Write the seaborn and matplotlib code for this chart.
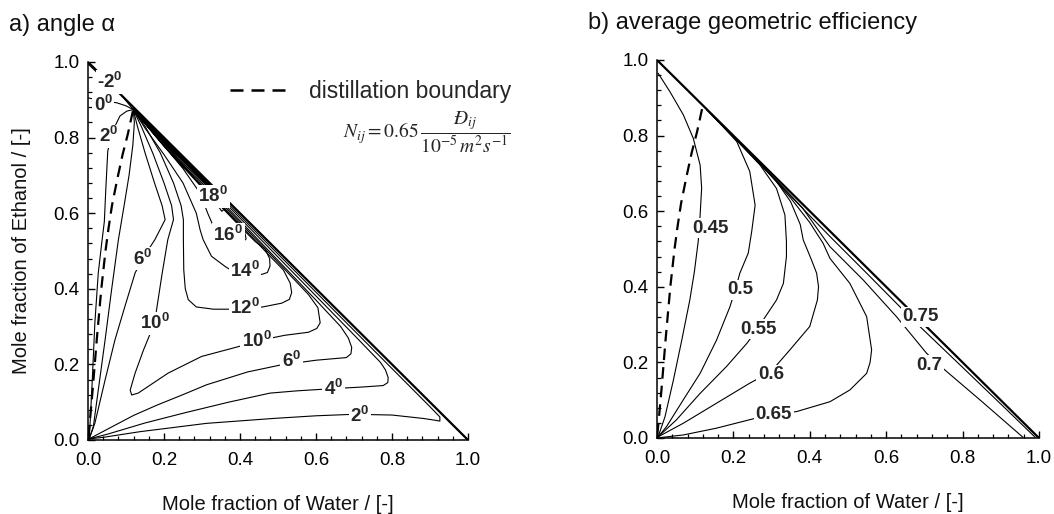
import matplotlib
matplotlib.use("Agg")
import matplotlib.pyplot as plt
import seaborn as sns
from matplotlib.lines import Line2D
from matplotlib.ticker import MultipleLocator, FormatStrFormatter

sns.set_theme(style="ticks")
plt.rcParams["font.family"] = ["Liberation Sans", "DejaVu Sans"]
plt.rcParams["mathtext.fontset"] = "custom"
plt.rcParams["mathtext.rm"] = "Liberation Sans"
plt.rcParams["mathtext.bf"] = "Liberation Sans:bold"
plt.rcParams["mathtext.it"] = "Liberation Sans:italic"

# ---------------- data ----------------
# distillation boundary (water, ethanol mole fractions)
boundary_x = [0.118, 0.105, 0.091, 0.077, 0.063, 0.054, 0.046, 0.035, 0.023, 0.012, 0.004, 0.0]
boundary_y = [0.870, 0.810, 0.755, 0.690, 0.620, 0.560, 0.500, 0.400, 0.265, 0.130, 0.040, 0.0]

# triangle edge (x_water + x_ethanol = 1)
edge_x = [0.0, 1.0]
edge_y = [1.0, 0.0]
band_x = [0.16, 0.33]
band_y = [0.834, 0.664]

# ---- a) angle alpha isolines ----
alpha_m2_x = [0.0, 0.024, 0.058, 0.09, 0.119]
alpha_m2_y = [0.995, 0.972, 0.945, 0.91, 0.874]
alpha_0_x = [0.0, 0.04, 0.076, 0.10, 0.119]
alpha_0_y = [0.905, 0.897, 0.892, 0.884, 0.874]
alpha_2_x = [0.119, 0.102, 0.084, 0.071, 0.060, 0.052, 0.047, 0.043, 0.036, 0.027, 0.018, 0.010, 0.005, 0.003,
             0.04, 0.137, 0.312, 0.488, 0.60, 0.70, 0.80, 0.882, 0.915, 0.926, 0.926, 0.90, 0.80, 0.70, 0.60,
             0.50, 0.40, 0.30, 0.20, 0.119]
alpha_2_y = [0.874, 0.870, 0.857, 0.830, 0.800, 0.764, 0.667, 0.578, 0.520, 0.442, 0.309, 0.132, 0.035, 0.003,
             0.007, 0.022, 0.044, 0.057, 0.064, 0.068, 0.066, 0.057, 0.052, 0.050, 0.061, 0.088, 0.189, 0.290,
             0.391, 0.492, 0.593, 0.695, 0.796, 0.877]
alpha_4_x = [0.119, 0.122, 0.118, 0.108, 0.095, 0.080, 0.062, 0.045, 0.027, 0.014, 0.003,
             0.05, 0.15, 0.255, 0.37, 0.479, 0.55, 0.646, 0.72, 0.777, 0.789, 0.790, 0.783, 0.77, 0.70,
             0.60, 0.50, 0.40, 0.30, 0.20, 0.119]
alpha_4_y = [0.874, 0.840, 0.780, 0.700, 0.620, 0.530, 0.397, 0.265, 0.132, 0.035, 0.003,
             0.015, 0.045, 0.072, 0.100, 0.124, 0.130, 0.136, 0.140, 0.144, 0.152, 0.165, 0.185, 0.205, 0.278,
             0.381, 0.484, 0.587, 0.690, 0.793, 0.876]
alpha_6_x = [0.119, 0.130, 0.150, 0.175, 0.195, 0.203, 0.176, 0.143, 0.124, 0.097, 0.071, 0.045, 0.018, 0.003,
             0.05, 0.12, 0.181, 0.25, 0.312, 0.42, 0.505, 0.60, 0.68, 0.692, 0.694, 0.685, 0.665, 0.60, 0.50,
             0.40, 0.30, 0.20, 0.119]
alpha_6_y = [0.874, 0.830, 0.760, 0.680, 0.620, 0.583, 0.530, 0.479, 0.442, 0.353, 0.265, 0.159, 0.044, 0.003,
             0.028, 0.065, 0.092, 0.120, 0.146, 0.180, 0.198, 0.211, 0.218, 0.228, 0.245, 0.270, 0.300, 0.370,
             0.475, 0.580, 0.685, 0.790, 0.875]
alpha_10_x = [0.119, 0.140, 0.170, 0.200, 0.220, 0.225, 0.210, 0.195, 0.175, 0.146, 0.124, 0.111, 0.115, 0.132,
              0.211, 0.299, 0.396, 0.444, 0.518, 0.58, 0.602, 0.611, 0.605, 0.58, 0.50, 0.40, 0.30, 0.20, 0.119]
alpha_10_y = [0.874, 0.830, 0.760, 0.680, 0.620, 0.583, 0.530, 0.440, 0.309, 0.238, 0.177, 0.132, 0.119, 0.124,
              0.177, 0.221, 0.247, 0.262, 0.277, 0.285, 0.295, 0.310, 0.350, 0.385, 0.470, 0.575, 0.680, 0.787,
              0.875]
alpha_12_x = [0.119, 0.150, 0.190, 0.225, 0.245, 0.251, 0.251, 0.252, 0.256, 0.264, 0.285, 0.330, 0.413, 0.460,
              0.510, 0.530, 0.536, 0.532, 0.514, 0.480, 0.40, 0.30, 0.20, 0.119]
alpha_12_y = [0.874, 0.830, 0.760, 0.680, 0.620, 0.583, 0.530, 0.450, 0.400, 0.371, 0.352, 0.346, 0.346, 0.352,
              0.362, 0.372, 0.390, 0.415, 0.450, 0.485, 0.570, 0.675, 0.783, 0.874]
alpha_14_x = [0.119, 0.150, 0.200, 0.250, 0.285, 0.295, 0.303, 0.325, 0.361, 0.378, 0.413, 0.457, 0.472, 0.479,
              0.478, 0.466, 0.44, 0.40, 0.30, 0.20, 0.119]
alpha_14_y = [0.874, 0.825, 0.755, 0.680, 0.600, 0.556, 0.530, 0.486, 0.459, 0.448, 0.443, 0.438, 0.443, 0.460,
              0.480, 0.505, 0.525, 0.565, 0.670, 0.780, 0.874]
alpha_16_x = [0.119, 0.160, 0.200, 0.250, 0.295, 0.315, 0.330, 0.345, 0.369, 0.396, 0.409, 0.416, 0.412, 0.39,
              0.30, 0.20, 0.119]
alpha_16_y = [0.874, 0.825, 0.778, 0.718, 0.653, 0.600, 0.565, 0.548, 0.542, 0.540, 0.525, 0.532, 0.552, 0.578,
              0.668, 0.777, 0.874]
alpha_18_x = [0.119, 0.200, 0.260, 0.300, 0.335, 0.352, 0.360, 0.355, 0.320, 0.260, 0.200, 0.119]
alpha_18_y = [0.874, 0.787, 0.716, 0.670, 0.630, 0.605, 0.612, 0.628, 0.665, 0.730, 0.793, 0.876]

alpha_label_text = ["-2", "0", "2", "6", "10", "12", "14", "16", "18", "10", "6", "4", "2"]
alpha_label_x = [0.058, 0.040, 0.054, 0.143, 0.175, 0.413, 0.413, 0.369, 0.330, 0.444, 0.536, 0.646, 0.716]
alpha_label_y = [0.947, 0.887, 0.804, 0.479, 0.309, 0.349, 0.446, 0.543, 0.645, 0.263, 0.208, 0.134, 0.064]

# ---- b) average geometric efficiency isolines ----
eff_45_x = [0.003, 0.034, 0.069, 0.095, 0.113, 0.117, 0.113, 0.108, 0.098, 0.086, 0.065, 0.043, 0.021, 0.003]
eff_45_y = [0.965, 0.916, 0.855, 0.793, 0.722, 0.661, 0.590, 0.520, 0.440, 0.365, 0.259, 0.153, 0.056, 0.003]
eff_50_x = [0.130, 0.165, 0.209, 0.243, 0.257, 0.248, 0.239, 0.217, 0.205, 0.191, 0.156, 0.113, 0.069, 0.025, 0.003]
eff_50_y = [0.868, 0.832, 0.784, 0.705, 0.616, 0.546, 0.489, 0.436, 0.392, 0.347, 0.259, 0.171, 0.101, 0.030, 0.003]
eff_55_x = [0.140, 0.200, 0.270, 0.313, 0.335, 0.339, 0.339, 0.331, 0.313, 0.278, 0.265, 0.235, 0.182, 0.113,
            0.051, 0.003]
eff_55_y = [0.858, 0.797, 0.722, 0.660, 0.590, 0.519, 0.480, 0.409, 0.365, 0.312, 0.290, 0.250, 0.189, 0.118,
            0.048, 0.003]
eff_60_x = [0.150, 0.250, 0.310, 0.350, 0.375, 0.383, 0.405, 0.418, 0.423, 0.420, 0.400, 0.348, 0.298, 0.243,
            0.156, 0.069, 0.003]
eff_60_y = [0.848, 0.746, 0.683, 0.625, 0.565, 0.524, 0.470, 0.436, 0.400, 0.365, 0.295, 0.233, 0.175, 0.145,
            0.092, 0.039, 0.003]
eff_65_x = [0.160, 0.280, 0.350, 0.400, 0.435, 0.453, 0.505, 0.549, 0.562, 0.558, 0.549, 0.505, 0.453, 0.366,
            0.306, 0.261, 0.156, 0.069, 0.008]
eff_65_y = [0.838, 0.715, 0.635, 0.570, 0.515, 0.475, 0.409, 0.321, 0.233, 0.200, 0.171, 0.127, 0.096, 0.070,
            0.062, 0.053, 0.026, 0.008, 0.001]
eff_70_x = [0.170, 0.300, 0.380, 0.453, 0.540, 0.627, 0.706, 0.749, 0.850, 0.958]
eff_70_y = [0.828, 0.695, 0.610, 0.506, 0.418, 0.321, 0.224, 0.184, 0.097, 0.002]
eff_75_x = [0.180, 0.350, 0.453, 0.550, 0.640, 0.684, 0.800, 0.900, 0.990]
eff_75_y = [0.818, 0.640, 0.533, 0.435, 0.343, 0.299, 0.187, 0.090, 0.002]

eff_label_text = ["0.45", "0.5", "0.55", "0.6", "0.65", "0.7", "0.75"]
eff_label_x = [0.139, 0.217, 0.265, 0.298, 0.306, 0.713, 0.691]
eff_label_y = [0.555, 0.392, 0.287, 0.167, 0.063, 0.193, 0.321]

# ---------------- drawing ----------------
fig = plt.figure(figsize=(10.54, 5.14), dpi=100)
ax1 = fig.add_axes([0.0835, 0.144, 0.3605, 0.7354])
ax2 = fig.add_axes([0.6233, 0.1479, 0.3624, 0.7354])


def draw(ax, xs, ys, lw=0.8, ls="-", z=2):
    sns.lineplot(x=xs, y=ys, sort=False, estimator=None, color="black",
                 linewidth=lw, linestyle=ls, ax=ax, legend=False, zorder=z)


def style_axes(ax):
    ax.set_xlim(0, 1)
    ax.set_ylim(0, 1)
    for s in ["top", "right"]:
        ax.spines[s].set_visible(False)
    for s in ["left", "bottom"]:
        ax.spines[s].set_linewidth(1.1)
        ax.spines[s].set_color("black")
    ax.xaxis.set_major_locator(MultipleLocator(0.2))
    ax.yaxis.set_major_locator(MultipleLocator(0.2))
    ax.xaxis.set_minor_locator(MultipleLocator(0.04))
    ax.yaxis.set_minor_locator(MultipleLocator(0.04))
    ax.xaxis.set_major_formatter(FormatStrFormatter("%.1f"))
    ax.yaxis.set_major_formatter(FormatStrFormatter("%.1f"))
    ax.tick_params(which="major", direction="in", length=5, width=1, colors="black", labelsize=13.5)
    ax.tick_params(which="minor", direction="in", length=3, width=0.9, colors="black")
    ax.tick_params(axis="x", which="major", pad=9)
    ax.tick_params(axis="y", which="major", pad=6)
    ax.set_xlabel("Mole fraction of Water / [-]", fontsize=14.5, color="#111111")
    ax.xaxis.set_label_coords(0.5, -0.145)
    ax.set_facecolor("white")


dash = (0, (5.2, 3.2))

# panel a
for xs, ys in [(alpha_m2_x, alpha_m2_y), (alpha_0_x, alpha_0_y), (alpha_2_x, alpha_2_y),
               (alpha_4_x, alpha_4_y), (alpha_6_x, alpha_6_y), (alpha_10_x, alpha_10_y),
               (alpha_12_x, alpha_12_y), (alpha_14_x, alpha_14_y), (alpha_16_x, alpha_16_y),
               (alpha_18_x, alpha_18_y)]:
    draw(ax1, xs, ys, lw=0.8)
draw(ax1, edge_x, edge_y, lw=1.6, z=3)
draw(ax1, band_x, band_y, lw=2.6, z=3)
draw(ax1, boundary_x, boundary_y, lw=1.6, ls=dash, z=3)
style_axes(ax1)
ax1.set_ylabel("Mole fraction of Ethanol / [-]", fontsize=14.5, color="#111111")
ax1.yaxis.set_label_coords(-0.150, 0.5)

for t, x, y in zip(alpha_label_text, alpha_label_x, alpha_label_y):
    if t.startswith("-"):
        s = "-$\\mathbf{" + t[1:] + "^{0}}$"
    else:
        s = "$\\mathbf{" + t + "^{0}}$"
    ax1.text(x, y, s, ha="center", va="center", fontsize=13.5, fontweight="bold", zorder=6,
             bbox=dict(boxstyle="square,pad=0.08", fc="white", ec="none"))

h = Line2D([], [], color="black", linestyle=dash, linewidth=1.8)
ax1.legend([h], ["distillation boundary"], loc="center left", bbox_to_anchor=(0.374, 0.922),
           frameon=False, fontsize=16.5, handlelength=2.5, handletextpad=0.95, borderpad=0,
           borderaxespad=0)
ax1.text(0.672, 0.813, r"$N_{ij}=0.65\,\dfrac{\mathit{Đ}_{ij}}{10^{-5}\,m^{2}s^{-1}}$",
         math_fontfamily="stix", fontsize=14, ha="left", va="center")

# panel b
for xs, ys in [(eff_45_x, eff_45_y), (eff_50_x, eff_50_y), (eff_55_x, eff_55_y), (eff_60_x, eff_60_y),
               (eff_65_x, eff_65_y), (eff_70_x, eff_70_y), (eff_75_x, eff_75_y)]:
    draw(ax2, xs, ys, lw=0.8)
draw(ax2, edge_x, edge_y, lw=1.6, z=3)
draw(ax2, boundary_x, boundary_y, lw=1.6, ls=dash, z=3)
style_axes(ax2)
ax2.set_ylabel("")
for t, x, y in zip(eff_label_text, eff_label_x, eff_label_y):
    ax2.text(x, y, t, ha="center", va="center", fontsize=13.5, fontweight="bold", zorder=6,
             bbox=dict(boxstyle="square,pad=0.08", fc="white", ec="none"))

fig.text(0.009, 0.940, "a) angle α", fontsize=17, ha="left", va="baseline", color="#111111")
fig.text(0.558, 0.943, "b) average geometric efficiency", fontsize=17, ha="left", va="baseline",
         color="#111111")

fig.savefig("out.png", dpi=100, facecolor="white")
